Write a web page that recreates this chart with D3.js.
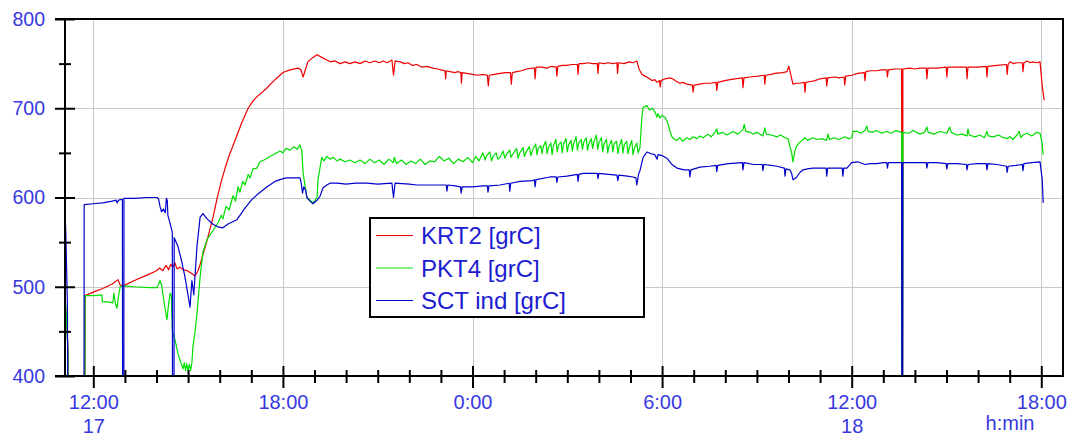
<!DOCTYPE html>
<html><head><meta charset="utf-8">
<script src="https://cdn.jsdelivr.net/npm/d3@7"></script>
<style>body{margin:0;background:#fff}svg{display:block;font-family:Arial,"Liberation Sans",sans-serif}</style>
</head><body><svg id="c" width="1068" height="436"></svg>
<script>
// ---- data: [hour since day 17 00:00, value] ----
const krt2 = [[11.10,486],[11.15,462],[11.20,430],[11.24,0],[11.72,0],[11.74,490],[12.00,494],[12.30,498],[12.60,503],[12.78,508],[12.85,502],[12.95,501],[13.30,507],[13.70,513],[14.00,518],[14.10,521],[14.20,518],[14.30,524],[14.38,519],[14.45,525],[14.52,522],[14.58,527],[14.65,520],[14.74,522],[14.84,519],[14.97,518],[15.10,515],[15.22,512],[15.30,517],[15.38,525],[15.60,552],[15.79,578],[15.91,598],[16.05,618],[16.17,633],[16.30,647],[16.42,658],[16.55,670],[16.70,684],[16.90,700],[17.05,708],[17.18,713],[17.35,718],[17.50,723],[17.75,732],[18.00,740],[18.22,743],[18.48,745],[18.57,743],[18.64,735],[18.70,742],[18.79,752],[18.95,757],[19.08,760],[19.23,757],[19.39,754],[19.50,752],[19.65,753],[19.81,750],[19.97,752],[20.12,750],[20.28,752],[20.44,750],[20.60,753],[20.75,751],[20.91,753],[21.05,751],[21.17,753],[21.30,751],[21.45,754],[21.50,737],[21.55,753],[21.71,752],[21.85,750],[21.96,751],[22.10,748],[22.24,749],[22.40,746],[22.55,747],[22.75,745],[22.90,744],[23.00,743],[23.13,742],[23.15,733],[23.17,742],[23.29,741],[23.45,740],[23.54,741],[23.63,740],[23.65,728],[23.67,740],[23.82,739],[24.00,738],[24.15,737],[24.33,738],[24.47,737],[24.50,725],[24.53,737],[24.70,738],[24.87,739],[25.05,740],[25.20,740],[25.23,727],[25.26,740],[25.40,741],[25.55,742],[25.70,744],[25.91,745],[25.96,745],[25.98,733],[26.01,746],[26.20,746],[26.35,745],[26.50,747],[26.65,746],[26.67,736],[26.70,747],[26.85,748],[26.99,748],[27.15,749],[27.32,749],[27.34,738],[27.37,750],[27.50,750],[27.65,751],[27.79,750],[27.95,750],[27.97,739],[28.00,751],[28.15,750],[28.30,751],[28.45,750],[28.57,751],[28.59,739],[28.62,751],[28.80,750],[28.95,752],[29.08,751],[29.20,753],[29.27,744],[29.36,738],[29.45,736],[29.52,735],[29.60,733],[29.68,731],[29.77,732],[29.84,729],[29.92,731],[29.94,724],[29.97,731],[30.09,733],[30.25,734],[30.33,733],[30.41,731],[30.56,728],[30.65,729],[30.78,727],[30.96,726],[30.98,718],[31.01,726],[31.20,727],[31.35,728],[31.52,728],[31.71,729],[31.73,720],[31.76,729],[31.98,731],[32.15,732],[32.30,733],[32.54,734],[32.56,723],[32.59,734],[32.78,735],[33.03,736],[33.23,737],[33.25,727],[33.28,737],[33.45,738],[33.57,739],[33.82,740],[33.95,741],[34.01,747],[34.07,738],[34.14,727],[34.25,728],[34.36,728],[34.50,729],[34.52,718],[34.55,729],[34.70,730],[34.84,731],[35.00,733],[35.19,734],[35.21,725],[35.24,734],[35.47,735],[35.60,734],[35.76,735],[35.78,726],[35.81,736],[36.00,737],[36.19,739],[36.40,740],[36.42,731],[36.45,741],[36.60,742],[36.79,742],[36.95,743],[37.11,743],[37.13,735],[37.16,743],[37.37,744],[37.58,744],[37.60,0],[37.62,744],[37.84,745],[38.00,744],[38.16,745],[38.36,745],[38.38,733],[38.41,745],[38.70,745],[38.99,746],[39.01,735],[39.04,746],[39.33,746],[39.63,746],[39.65,733],[39.68,746],[39.97,746],[40.26,747],[40.28,735],[40.31,747],[40.60,748],[40.90,749],[40.92,738],[40.95,749],[41.01,752],[41.12,750],[41.23,751],[41.40,751],[41.42,741],[41.45,751],[41.55,753],[41.65,751],[41.74,752],[41.85,751],[41.96,752],[42.03,725],[42.09,709]];

const pkt4 = [[11.10,492],[11.14,472],[11.20,425],[11.26,0],[11.72,0],[11.74,490],[12.00,490],[12.27,491],[12.29,483],[12.45,483],[12.62,482],[12.65,493],[12.70,481],[12.75,476],[12.80,490],[12.85,500],[12.95,501],[13.30,500],[13.79,499],[14.02,499],[14.11,507],[14.16,502],[14.26,478],[14.33,463],[14.38,480],[14.43,493],[14.47,490],[14.50,450],[14.59,440],[14.68,425],[14.74,418],[14.80,412],[14.84,408],[14.88,415],[14.92,406],[14.96,414],[15.00,405],[15.04,413],[15.08,406],[15.12,415],[15.15,432],[15.22,450],[15.28,470],[15.38,511],[15.47,539],[15.60,553],[15.79,563],[15.95,572],[16.05,580],[16.10,576],[16.20,590],[16.30,586],[16.42,602],[16.50,596],[16.58,612],[16.64,606],[16.73,618],[16.80,614],[16.90,626],[16.96,622],[17.05,632],[17.18,633],[17.27,640],[17.40,642],[17.59,646],[17.75,649],[17.91,652],[18.00,650],[18.10,655],[18.22,653],[18.35,657],[18.45,654],[18.54,659],[18.60,652],[18.64,627],[18.76,600],[18.86,597],[18.95,594],[19.08,600],[19.11,620],[19.23,645],[19.30,641],[19.39,646],[19.49,643],[19.59,645],[19.71,641],[19.81,643],[19.97,640],[20.12,642],[20.28,639],[20.44,642],[20.60,638],[20.75,643],[20.90,639],[21.05,642],[21.20,637],[21.35,643],[21.50,639],[21.52,645],[21.60,638],[21.75,642],[21.90,637],[22.05,641],[22.20,638],[22.35,643],[22.50,637],[22.65,641],[22.80,640],[22.95,646],[23.10,641],[23.25,644],[23.40,638],[23.55,643],[23.70,640],[23.85,645],[24.00,639],[24.10,646],[24.20,641],[24.33,650],[24.40,642],[24.45,647],[24.55,651],[24.60,641],[24.65,646],[24.75,650],[24.80,643],[24.87,645],[24.97,652],[25.02,644],[25.07,648],[25.18,653],[25.22,645],[25.28,649],[25.40,655],[25.44,644],[25.50,650],[25.60,656],[25.64,646],[25.70,651],[25.80,657],[25.85,647],[25.91,654],[26.00,660],[26.04,648],[26.08,655],[26.16,658],[26.20,649],[26.24,657],[26.32,663],[26.36,649],[26.40,656],[26.48,661],[26.52,648],[26.56,658],[26.64,665],[26.68,651],[26.72,659],[26.80,662],[26.84,650],[26.88,660],[26.96,666],[27.00,651],[27.04,659],[27.12,664],[27.16,652],[27.20,660],[27.28,668],[27.32,653],[27.36,661],[27.44,665],[27.48,654],[27.52,662],[27.60,667],[27.64,653],[27.68,660],[27.76,666],[27.80,655],[27.84,662],[27.92,670],[27.96,654],[28.00,661],[28.08,667],[28.12,651],[28.16,660],[28.24,665],[28.28,650],[28.32,658],[28.40,664],[28.44,651],[28.48,660],[28.56,663],[28.60,649],[28.64,657],[28.72,665],[28.76,650],[28.80,659],[28.88,663],[28.92,649],[28.96,656],[29.04,664],[29.08,648],[29.12,655],[29.20,661],[29.24,650],[29.30,656],[29.36,690],[29.40,701],[29.52,703],[29.60,698],[29.70,700],[29.77,696],[29.84,690],[29.87,694],[29.93,689],[30.00,692],[30.09,690],[30.15,686],[30.18,683],[30.25,674],[30.31,668],[30.40,665],[30.47,664],[30.56,667],[30.65,663],[30.78,667],[30.88,665],[30.98,668],[31.10,666],[31.20,669],[31.30,667],[31.45,671],[31.55,668],[31.65,672],[31.73,677],[31.76,671],[31.90,673],[32.05,670],[32.24,674],[32.40,671],[32.56,676],[32.60,682],[32.65,674],[32.80,673],[32.87,671],[33.00,673],[33.19,669],[33.25,678],[33.30,671],[33.45,670],[33.64,668],[33.75,670],[33.89,667],[33.98,666],[34.04,658],[34.10,650],[34.14,640],[34.20,652],[34.26,658],[34.36,662],[34.46,665],[34.52,667],[34.60,664],[34.77,667],[34.90,665],[35.05,666],[35.21,664],[35.25,671],[35.30,665],[35.45,667],[35.60,665],[35.78,668],[35.90,666],[36.00,667],[36.04,674],[36.19,674],[36.30,672],[36.42,675],[36.48,680],[36.52,674],[36.65,673],[36.79,675],[36.95,672],[37.11,674],[37.25,672],[37.40,675],[37.58,673],[37.60,0],[37.62,673],[37.80,672],[37.95,675],[38.16,671],[38.30,673],[38.38,679],[38.42,673],[38.60,671],[38.80,674],[39.01,672],[39.10,679],[39.15,673],[39.33,670],[39.50,671],[39.65,669],[39.68,677],[39.72,670],[39.90,668],[40.06,670],[40.20,667],[40.28,674],[40.32,669],[40.48,668],[40.65,670],[40.80,667],[40.92,666],[41.01,668],[41.10,665],[41.23,670],[41.30,674],[41.35,667],[41.42,670],[41.55,672],[41.70,669],[41.85,673],[41.96,672],[42.03,660],[42.06,648]];

const sctInd = [[11.10,590],[11.13,560],[11.18,480],[11.24,0],[11.70,0],[11.71,592],[12.00,593],[12.30,594],[12.60,596],[12.72,597],[12.75,594],[12.80,597],[12.92,598],[12.94,0],[12.96,0],[12.97,599],[13.30,599],[13.70,600],[14.02,600],[14.07,598],[14.11,590],[14.16,584],[14.22,587],[14.28,583],[14.31,599],[14.34,597],[14.36,580],[14.43,571],[14.50,561],[14.52,0],[14.54,0],[14.56,555],[14.68,545],[14.80,528],[14.90,511],[15.00,490],[15.06,477],[15.12,507],[15.18,491],[15.28,545],[15.38,578],[15.47,582],[15.60,576],[15.79,570],[15.95,567],[16.10,566],[16.25,570],[16.54,575],[16.80,588],[17.00,597],[17.18,603],[17.50,612],[17.75,618],[17.91,620],[18.10,622],[18.54,622],[18.58,616],[18.62,605],[18.66,612],[18.72,608],[18.76,600],[18.86,596],[18.95,593],[19.08,597],[19.17,601],[19.27,611],[19.39,614],[19.49,616],[19.71,616],[20.00,615],[20.30,616],[20.66,616],[21.00,615],[21.45,616],[21.50,600],[21.55,616],[22.00,615],[22.24,614],[22.60,614],[23.00,614],[23.17,614],[23.19,607],[23.22,614],[23.45,613],[23.62,612],[23.64,605],[23.67,612],[24.00,612],[24.33,613],[24.47,613],[24.49,606],[24.52,613],[24.87,614],[25.16,616],[25.18,607],[25.21,616],[25.50,618],[25.91,619],[25.96,620],[25.98,612],[26.01,620],[26.45,623],[26.65,623],[26.67,617],[26.70,623],[26.99,624],[27.32,626],[27.34,618],[27.37,626],[27.50,627],[27.95,627],[27.97,621],[28.00,627],[28.30,626],[28.57,625],[28.60,619],[28.63,625],[28.90,624],[29.08,623],[29.17,622],[29.20,614],[29.26,627],[29.30,630],[29.40,645],[29.52,651],[29.65,649],[29.77,648],[29.84,643],[29.87,648],[30.00,647],[30.15,644],[30.31,637],[30.47,633],[30.70,631],[30.86,631],[30.88,623],[30.91,631],[31.20,634],[31.50,635],[31.71,636],[31.73,629],[31.76,636],[32.10,638],[32.54,639],[32.56,631],[32.59,639],[32.90,637],[33.17,637],[33.19,630],[33.22,637],[33.45,636],[33.64,635],[33.87,633],[33.89,624],[33.92,632],[34.04,631],[34.10,627],[34.14,620],[34.20,621],[34.26,623],[34.36,628],[34.46,631],[34.60,632],[34.77,633],[35.00,633],[35.19,633],[35.21,624],[35.24,633],[35.50,633],[35.70,633],[35.72,624],[35.75,633],[35.85,633],[36.00,639],[36.19,640],[36.42,637],[36.60,638],[36.79,638],[37.00,639],[37.11,639],[37.13,633],[37.16,639],[37.40,639],[37.58,639],[37.60,0],[37.62,639],[37.90,639],[38.16,639],[38.36,639],[38.38,633],[38.41,639],[38.70,639],[38.99,638],[39.01,632],[39.04,638],[39.33,638],[39.63,637],[39.65,631],[39.68,637],[39.97,638],[40.26,638],[40.28,631],[40.31,638],[40.60,637],[40.90,635],[40.92,628],[40.95,635],[41.20,636],[41.40,637],[41.42,630],[41.45,638],[41.70,639],[41.96,640],[42.03,620],[42.06,594]];

const seriesNames = ["KRT2 [grC]", "PKT4 [grC]", "SCT ind [grC]"];
const yMajorTicks = [400, 500, 600, 700, 800];
const yMinorTicks = [450, 550, 650, 750];
const xMajorTicks = [12, 18, 24, 30, 36, 42];
const xTickLabels = ["12:00", "18:00", "0:00", "6:00", "12:00", "18:00"];
const xDayLabels = ["17", "", "", "", "18", ""];
const xUnitLabel = "h:min";
const xDomain = [11.104, 42.687];
const yDomain = [400, 800];

// ---- styles ----
const colors = ["#ee0000", "#00dd00", "#0000cc"];
const labelColor = "#3838e0";
const legendTextColor = "#1c1cd0";

const svg = d3.select("#c");
svg.append("rect").attr("width", 1068).attr("height", 436).attr("fill", "#fff");
const P = {l: 65, r: 1063, t: 19, b: 376};
const x = d3.scaleLinear().domain(xDomain).range([P.l, P.r]);
const y = d3.scaleLinear().domain(yDomain).range([P.b, P.t]);

// grid
const grid = svg.append("g").attr("stroke", "#c8c8c8").attr("stroke-width", 1);
grid.selectAll(".gy").data(yMajorTicks.filter(v => v > yDomain[0] && v < yDomain[1])).join("line")
  .attr("x1", P.l).attr("x2", P.r).attr("y1", d => Math.round(y(d)) + 0.5).attr("y2", d => Math.round(y(d)) + 0.5);
grid.selectAll(".gx").data(xMajorTicks).join("line")
  .attr("y1", P.t).attr("y2", P.b).attr("x1", d => Math.round(x(d)) + 0.5).attr("x2", d => Math.round(x(d)) + 0.5);

// lines
svg.append("clipPath").attr("id", "clip").append("rect")
  .attr("x", P.l).attr("y", P.t).attr("width", P.r - P.l).attr("height", P.b - P.t);
const line = d3.line().x(d => x(d[0])).y(d => y(d[1]));
const lg = svg.append("g").attr("clip-path", "url(#clip)");
[krt2, pkt4, sctInd].forEach((s, i) => {
  lg.append("path").datum(s).attr("d", line).attr("fill", "none")
    .attr("stroke", colors[i]).attr("stroke-width", 1.2).attr("stroke-linejoin", "round");
});

// frame
const fr = svg.append("g").attr("stroke", "#000").attr("stroke-width", 2).attr("fill", "none");
fr.append("line").attr("x1", 55).attr("x2", P.r + 1).attr("y1", P.t).attr("y2", P.t);
fr.append("line").attr("x1", 55).attr("x2", P.r + 1).attr("y1", P.b).attr("y2", P.b);
fr.append("line").attr("x1", P.l).attr("x2", P.l).attr("y1", P.t).attr("y2", P.b);
fr.append("line").attr("x1", P.r).attr("x2", P.r).attr("y1", P.t).attr("y2", P.b + 1);

// y axis
const yAx = svg.append("g").attr("transform", `translate(${P.l},0)`)
  .call(d3.axisLeft(y).tickValues(yMajorTicks).tickSize(10).tickPadding(10).tickFormat(d3.format("d")));
yAx.select(".domain").remove();
yAx.selectAll(".tick line").attr("x1", 10).attr("stroke-width", 2);
yAx.selectAll(".tick text").attr("font-size", 19.5).attr("fill", labelColor).attr("font-family", "Arial, 'Liberation Sans', sans-serif");
const yAxm = svg.append("g").attr("transform", `translate(${P.l},0)`)
  .call(d3.axisLeft(y).tickValues(yMinorTicks).tickSize(6).tickFormat(""));
yAxm.select(".domain").remove();
yAxm.selectAll(".tick line").attr("x1", 6).attr("stroke-width", 2);

// x axis
const xAx = svg.append("g").attr("transform", `translate(0,${P.b})`)
  .call(d3.axisBottom(x).tickValues(xMajorTicks).tickSize(12).tickPadding(7).tickFormat((d, i) => xTickLabels[i]));
xAx.select(".domain").remove();
xAx.selectAll(".tick line").attr("y1", -10).attr("stroke-width", 2);
xAx.selectAll(".tick text").attr("font-size", 20).attr("fill", labelColor).attr("font-family", "Arial, 'Liberation Sans', sans-serif")
  .each(function(d, i) {
    if (xDayLabels[i]) d3.select(this).append("tspan").attr("x", 0).attr("dy", "1.18em").text(xDayLabels[i]);
  });
const minorHours = d3.range(Math.ceil(xDomain[0]), Math.floor(xDomain[1]) + 1).filter(h => !xMajorTicks.includes(h));
const xAxm = svg.append("g").attr("transform", `translate(0,${P.b})`)
  .call(d3.axisBottom(x).tickValues(minorHours).tickSize(7).tickFormat(""));
xAxm.select(".domain").remove();
xAxm.selectAll(".tick line").attr("y1", -6).attr("stroke-width", 2);

svg.append("text").attr("x", 1010).attr("y", 430).attr("text-anchor", "middle")
  .attr("font-size", 20).attr("fill", labelColor).text(xUnitLabel);

// legend
const leg = svg.append("g").attr("transform", "translate(370,218)");
leg.append("rect").attr("width", 274).attr("height", 99).attr("fill", "#fff").attr("stroke", "#000").attr("stroke-width", 2);
seriesNames.forEach((n, i) => {
  const cy = 17.5 + i * 32.5;
  leg.append("line").attr("x1", 6).attr("x2", 43).attr("y1", cy).attr("y2", cy).attr("stroke", colors[i]).attr("stroke-width", 1.2);
  leg.append("text").attr("x", 51).attr("y", cy + 8.5).attr("font-size", 24).attr("fill", legendTextColor).text(n);
});
</script></body></html>
